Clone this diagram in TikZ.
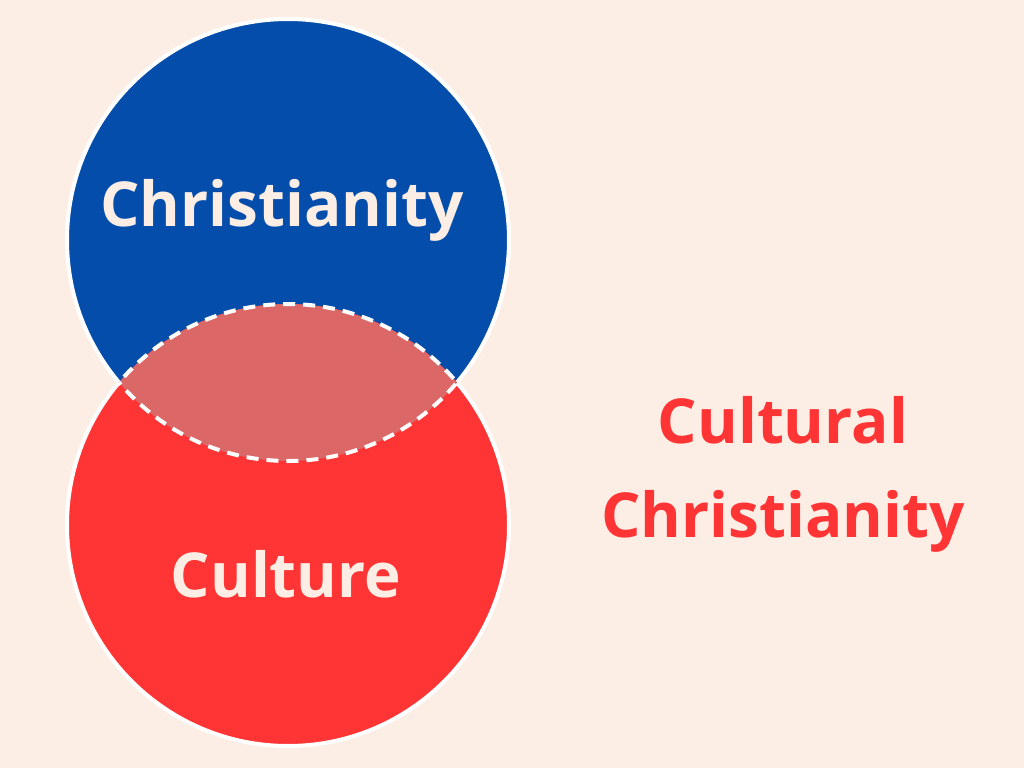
\documentclass[tikz,border=0pt]{standalone}
\usepackage{fontspec}
\setmainfont{Open Sans}[UprightFont=* Bold]
\definecolor{bgc}{HTML}{FDEEE5}
\definecolor{bluec}{HTML}{044DAB}
\definecolor{redc}{HTML}{FF3434}
\definecolor{lensc}{HTML}{DB6767}
\definecolor{creamc}{HTML}{FCEEE4}
\tikzset{
  lbl/.style={anchor=base, inner sep=0pt, font=\fontsize{62}{70}\selectfont},
  outline/.style={draw=white, line width=4pt},
  dashline/.style={draw=white, line width=4pt, dash pattern=on 12pt off 8pt},
}
\begin{document}
\begin{tikzpicture}[x=1pt,y=-1pt]
\useasboundingbox (0,0) rectangle (1024,768);
\fill[bgc] (0,0) rectangle (1024,768);
\coordinate (B) at (288,240);
\coordinate (R) at (288,525);
% blue circle
\fill[bluec] (B) circle[radius=221pt];
\draw[outline] (B) circle[radius=221pt];
% red circle
\fill[redc] (R) circle[radius=221pt];
\begin{scope}[even odd rule]
  \clip (-10,-10) rectangle (1034,778) (B) circle[radius=221pt];
  \draw[outline] (R) circle[radius=221pt];
\end{scope}
% lens
\begin{scope}
  \clip (B) circle[radius=221pt];
  \fill[lensc] (R) circle[radius=221pt];
  \draw[dashline] (R) circle[radius=221pt];
\end{scope}
\begin{scope}
  \clip (R) circle[radius=221pt];
  \draw[dashline] (B) circle[radius=221pt];
\end{scope}
% labels
\node[lbl, text=creamc] (t1) at (282,226) {Christianity};
\node[lbl, text=creamc] (t2) at (286,597) {Culture};
\node[lbl, text=redc] (t3) at (783,443) {Cultural};
\node[lbl, text=redc] (t4) at (783,537) {Christianity};
\end{tikzpicture}
\end{document}
